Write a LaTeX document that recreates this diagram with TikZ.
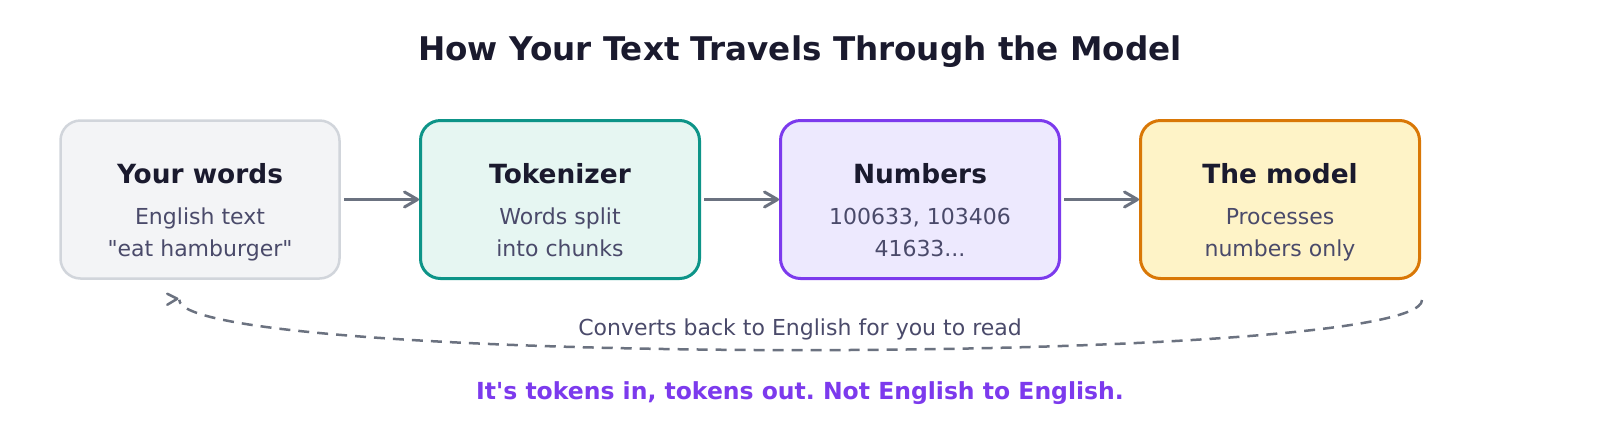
\documentclass[tikz,border=0pt]{standalone}
\usepackage{fontspec}
\setmainfont{DejaVu Sans}
\newfontfamily\dv{DejaVu Sans}
\usetikzlibrary{arrows.meta,calc}
\definecolor{ink}{HTML}{1A1A2E}
\definecolor{subink}{HTML}{4A4A6A}
\definecolor{flowgray}{HTML}{6B7280}
\definecolor{grayF}{HTML}{F3F4F6}
\definecolor{grayB}{HTML}{D1D5DB}
\definecolor{tealF}{HTML}{E6F6F2}
\definecolor{tealB}{HTML}{0D9488}
\definecolor{purpF}{HTML}{EDE9FE}
\definecolor{purpB}{HTML}{7C3AED}
\definecolor{ambF}{HTML}{FEF3C7}
\definecolor{ambB}{HTML}{D97706}
\frenchspacing
\begin{document}
\begin{tikzpicture}[x=1pt,y=-1pt,
  box/.style={draw, line width=3pt, rounded corners=20pt, minimum width=279pt, minimum height=158pt, inner sep=0pt},
  boxtitle/.style={anchor=base, font=\dv\fontsize{26.4}{30}\selectfont\bfseries, text=ink, inner sep=0pt},
  boxsub/.style={anchor=base, font=\dv\fontsize{22}{26}\selectfont, text=subink, inner sep=0pt},
  flow/.style={draw=flowgray, line width=3pt, shorten <=3pt,
    -{Straight Barb[length=13pt,width=15pt,line cap=round,line join=round]}},
  back/.style={draw=flowgray, line width=2.5pt, dash pattern=on 11pt off 8pt},
  backtip/.style={draw=flowgray, line width=2.5pt, line cap=round, line join=round},
]
\useasboundingbox (0,0) rectangle (1600,440);

\node[anchor=base, font=\dv\fontsize{32.6}{38}\selectfont\bfseries, text=ink, inner sep=0pt] (title) at (800,60) {How Your Text Travels Through the Model};

\node[box, draw=grayB, line width=2.5pt, fill=grayF] (words) at (200,199.5) {};
\node[box, draw=tealB, fill=tealF] (tok) at (560,199.5) {};
\node[box, draw=purpB, fill=purpF] (nums) at (920,199.5) {};
\node[box, draw=ambB, fill=ambF] (model) at (1280,199.5) {};

\node[boxtitle] (words-t) at ($(words.center)+(0,-16)$) {Your words};
\node[boxsub] (words-a) at ($(words.center)+(0,25)$) {English text};
\node[boxsub] (words-b) at ($(words.center)+(0,57)$) {"eat hamburger"};

\node[boxtitle] (tok-t) at ($(tok.center)+(0,-16)$) {Tokenizer};
\node[boxsub] (tok-a) at ($(tok.center)+(0,25)$) {Words split};
\node[boxsub] (tok-b) at ($(tok.center)+(0,57)$) {into chunks};

\node[boxtitle] (nums-t) at ($(nums.center)+(0,-16)$) {Numbers};
\node[boxsub] (nums-a) at ($(nums.center)+(0,25)$) {100633, 103406};
\node[boxsub] (nums-b) at ($(nums.center)+(0,57)$) {41633...};

\node[boxtitle] (model-t) at ($(model.center)+(0,-16)$) {The model};
\node[boxsub] (model-a) at ($(model.center)+(0,25)$) {Processes};
\node[boxsub] (model-b) at ($(model.center)+(0,57)$) {numbers only};

\draw[flow] (words.east) -- (tok.west);
\draw[flow] (tok.east) -- (nums.west);
\draw[flow] (nums.east) -- (model.west);

\coordinate (backS) at ($(model.south east)+(1,20)$);
\coordinate (backE) at ($(words.south west)+(120,20)$);
\draw[back] (backS) .. controls ($(backS)+(0,67)$) and ($(backE)+(0,67)$) .. (backE);
\draw[backtip] ($(backE)+(-12,-6)$) -- ($(backE)+(-2,-1)$) -- ($(backE)+(-12,5)$);

\node[anchor=base, font=\dv\fontsize{22}{26}\selectfont, text=subink, inner sep=0pt] (backlabel) at (800,335) {Converts back to English for you to read};
\node[anchor=base, font=\dv\fontsize{23.5}{28}\selectfont\bfseries, text=purpB, inner sep=0pt] (moral) at (800,399) {It's tokens in, tokens out. Not English to English.};
\end{tikzpicture}
\end{document}
